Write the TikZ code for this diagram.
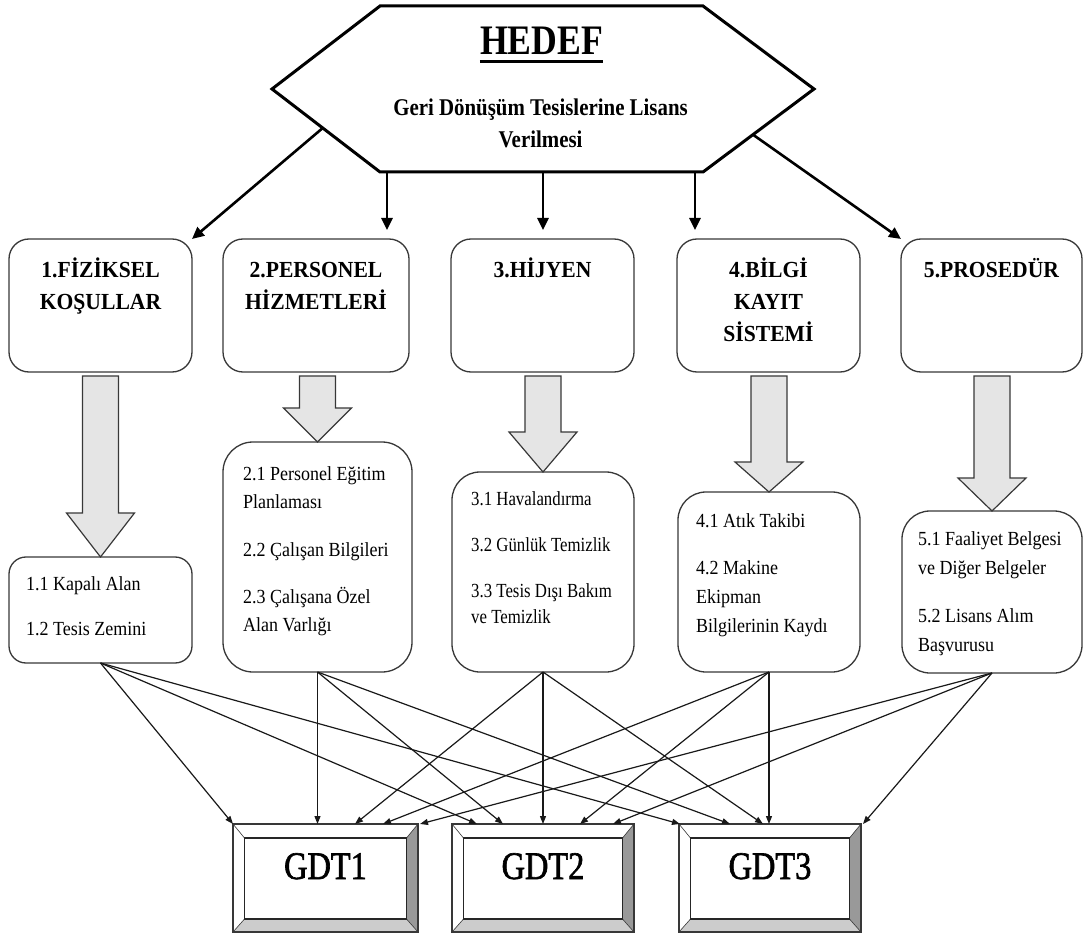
\documentclass[tikz,border=0pt]{standalone}
\usepackage{fontspec}
\setmainfont{Liberation Serif}
\newfontfamily\goalfont{Liberation Serif}[FakeStretch=0.87]
\newfontfamily\hedeffont{Liberation Serif}[FakeStretch=0.85]
\newfontfamily\titlefont{Liberation Serif}[FakeStretch=0.94]
\newfontfamily\itemfont{Liberation Serif}[FakeStretch=0.9]
\newfontfamily\itemfontn{Liberation Serif}[FakeStretch=0.84]
\newfontfamily\gdtfont{Liberation Serif}[FakeStretch=0.83, FakeBold=1.6]
\usetikzlibrary{arrows.meta,calc}

\definecolor{edge}{gray}{0.22}
\definecolor{arrowfill}{gray}{0.9}
\definecolor{bevelright}{gray}{0.6}
\definecolor{bevelbottom}{gray}{0.8}

% thick grey block arrow from box #1 down to box #2, head length #3
\newcommand\blockarrow[3]{%
  \coordinate (#2top) at (#2.north |- #1.south);
  \draw[blockarrow] ($(#2top)+(-18,4)$) -- ($(#2.north)+(-18,-#3)$)
    -- ($(#2.north)+(-34,-#3)$) -- (#2.north) -- ($(#2.north)+(34,-#3)$)
    -- ($(#2.north)+(18,-#3)$) -- ($(#2top)+(18,4)$) -- cycle;
}

% bevelled result box: name, left x, right x, label
\newcommand\gdtbox[4]{%
  \node[minimum width={#3-#2}, minimum height=108, inner sep=0pt, outer sep=0pt] (#1) at ({(#2+#3)/2},878) {};
  \coordinate (#1a) at ($(#1.north west)+(11.5,14)$);
  \coordinate (#1b) at ($(#1.north east)+(-11.5,14)$);
  \coordinate (#1c) at ($(#1.south east)+(-11.5,-13)$);
  \coordinate (#1d) at ($(#1.south west)+(11.5,-13)$);
  \fill[white] (#1.north west) rectangle (#1.south east);
  \fill[bevelright] (#1.north east) -- (#1.south east) -- (#1c) -- (#1b) -- cycle;
  \fill[bevelbottom] (#1.south west) -- (#1.south east) -- (#1c) -- (#1d) -- cycle;
  \draw[line width=0.6pt, edge] (#1.north west) -- (#1a) (#1.north east) -- (#1b)
    (#1.south east) -- (#1c) (#1.south west) -- (#1d);
  \draw[line width=1.3pt, edge] (#1.north west) rectangle (#1.south east);
  \draw[line width=1.5pt, black!85] (#1a) rectangle (#1c);
  \node[gdtlabel] (#1t) at ({(#2+#3)/2},879) {#4};
}

\begin{document}
\begin{tikzpicture}[x=1pt,y=-1pt,
  catbox/.style={draw=edge, line width=1.3pt, rounded corners=20pt, fill=white, inner sep=0pt, outer sep=0pt},
  itembox/.style={draw=edge, line width=1.3pt, fill=white, inner sep=0pt, outer sep=0pt},
  cattitle/.style={anchor=north, inner sep=0pt, align=center, font=\titlefont\bfseries\fontsize{23}{32}\selectfont},
  itemtext/.style={anchor=north west, inner sep=0pt, align=left, font=\itemfont\fontsize{20}{28}\selectfont},
  gdtlabel/.style={anchor=base, inner sep=0pt, font=\gdtfont\fontsize{39}{44}\selectfont},
  goalarrow/.style={line width=2.6pt, -{Triangle[length=12pt,width=11pt]}},
  blockarrow/.style={draw=edge, line width=1.2pt, fill=arrowfill, line join=miter},
  link/.style={line width=1.2pt, draw=black!90, -{Triangle[length=8pt,width=6pt]}},
]
\useasboundingbox (0,0) rectangle (1090,933);
\fill[white] (0,0) rectangle (1090,933);

% goal hexagon
\coordinate (hL) at (272,89);
\coordinate (hTL) at (380,6);
\coordinate (hTR) at (703,6);
\coordinate (hR) at (814,89);
\coordinate (hBR) at (703,172);
\coordinate (hBL) at (380,172);
\draw[line width=3pt, line join=miter] (hL) -- (hTL) -- (hTR) -- (hR) -- (hBR) -- (hBL) -- cycle;
\node[anchor=base, inner sep=0pt, font=\hedeffont\bfseries\fontsize{42}{48}\selectfont] (hedef) at (541.5,55) {HEDEF};
\draw[line width=3pt] ([yshift=-7pt]hedef.base west) -- ([yshift=-7pt]hedef.base east);
\node[anchor=north, inner sep=0pt, align=center, font=\goalfont\bfseries\fontsize{24}{32}\selectfont] (goal) at (540.5,92.6)
  {\strut Geri Dönüşüm Tesislerine Lisans\\Verilmesi};

% main categories
\node[catbox, minimum width=183, minimum height=133] (c1) at (100.5,305.5) {};
\node[catbox, minimum width=186, minimum height=133] (c2) at (316,305.5) {};
\node[catbox, minimum width=183, minimum height=133] (c3) at (542.5,305.5) {};
\node[catbox, minimum width=183, minimum height=133] (c4) at (768.5,305.5) {};
\node[catbox, minimum width=181, minimum height=133] (c5) at (991.5,305.5) {};
\node[cattitle] (c1t) at ([yshift=-15.6pt]c1.north) {\strut 1.FİZİKSEL\\KOŞULLAR};
\node[cattitle] (c2t) at ([yshift=-15.6pt]c2.north) {\strut 2.PERSONEL\\HİZMETLERİ};
\node[cattitle] (c3t) at ([yshift=-15.6pt]c3.north) {\strut 3.HİJYEN};
\node[cattitle] (c4t) at ([yshift=-15.6pt]c4.north) {\strut 4.BİLGİ\\KAYIT\\SİSTEMİ};
\node[cattitle] (c5t) at ([yshift=-15.6pt]c5.north) {\strut 5.PROSEDÜR};

% goal arrows
\coordinate (dl) at ($(hL)!0.47!(hBL)$);
\coordinate (dr) at ($(hR)!0.55!(hBR)$);
\coordinate (v1) at (387,172);
\coordinate (v2) at (543,172);
\coordinate (v3) at (695,172);
\draw[goalarrow] (dl) -- (c1.north east);
\draw[goalarrow] (dr) -- (c5.north west);
\draw[goalarrow, shorten >=9pt] (v1) -- (v1 |- c2.north);
\draw[goalarrow, shorten >=9pt] (v2) -- (v2 |- c3.north);
\draw[goalarrow, shorten >=9pt] (v3) -- (v3 |- c4.north);

% sub-item boxes
\node[itembox, rounded corners=17pt, minimum width=183, minimum height=106] (s1) at (100.5,610) {};
\node[itembox, rounded corners=30pt, minimum width=189, minimum height=230] (s2) at (317.5,557) {};
\node[itembox, rounded corners=28pt, minimum width=182, minimum height=200] (s3) at (543,572) {};
\node[itembox, rounded corners=28pt, minimum width=182, minimum height=180] (s4) at (769,582) {};
\node[itembox, rounded corners=28pt, minimum width=180, minimum height=162] (s5) at (992,592) {};

\node[itemtext] (s1t) at (26,570.4) {\strut 1.1 Kapalı Alan\\[17pt]1.2 Tesis Zemini};
\node[itemtext] (s2t) at (243,460.4) {\strut 2.1 Personel Eğitim\\Planlaması\\[20pt]2.2 Çalışan Bilgileri\\[19pt]2.3 Çalışana Özel\\Alan Varlığı};
\node[itemtext, font=\itemfontn\fontsize{20}{26}\selectfont] (s3t) at (471,486.8) {\strut 3.1 Havalandırma\\[20pt]3.2 Günlük Temizlik\\[20pt]3.3 Tesis Dışı Bakım\\ve Temizlik};
\node[itemtext, font=\itemfont\fontsize{20}{29}\selectfont] (s4t) at (696,506.7) {\strut 4.1 Atık Takibi\\[18pt]4.2 Makine\\Ekipman\\Bilgilerinin Kaydı};
\node[itemtext, font=\itemfont\fontsize{20}{29}\selectfont] (s5t) at (918,524.7) {\strut 5.1 Faaliyet Belgesi\\ve Diğer Belgeler\\[19pt]5.2 Lisans Alım\\Başvurusu};

% block arrows
\blockarrow{c1}{s1}{44}
\blockarrow{c2}{s2}{34}
\blockarrow{c3}{s3}{40}
\blockarrow{c4}{s4}{30}
\blockarrow{c5}{s5}{33}

% result boxes
\gdtbox{g1}{233}{418}{GDT1}
\gdtbox{g2}{452}{634}{GDT2}
\gdtbox{g3}{679}{861}{GDT3}

% links from sub-items to results
\draw[link] (s1.south) -- (g1.north west);
\draw[link] (s1.south) -- ([xshift=25pt]g2.north west);
\draw[link] (s1.south) -- ([xshift=1pt]g3.north west);
\draw[link] (s2.south) -- (s2.south |- g1.north);
\draw[link] (s2.south) -- ([xshift=51pt]g2.north west);
\draw[link] (s2.south) -- ([xshift=51pt]g3.north west);
\draw[link] (s3.south) -- ([xshift=122pt]g1.north west);
\draw[link] (s3.south) -- (s3.south |- g2.north);
\draw[link] (s3.south) -- ([xshift=84pt]g3.north west);
\draw[link] (s4.south) -- ([xshift=150pt]g1.north west);
\draw[link] (s4.south) -- ([xshift=128pt]g2.north west);
\draw[link] (s4.south) -- (s4.south |- g3.north);
\draw[link] (s5.south) -- ([xshift=2pt]g1.north east);
\draw[link] (s5.south) -- ([xshift=161pt]g2.north west);
\draw[link] (s5.south) -- ([xshift=2pt]g3.north east);
\end{tikzpicture}
\end{document}
